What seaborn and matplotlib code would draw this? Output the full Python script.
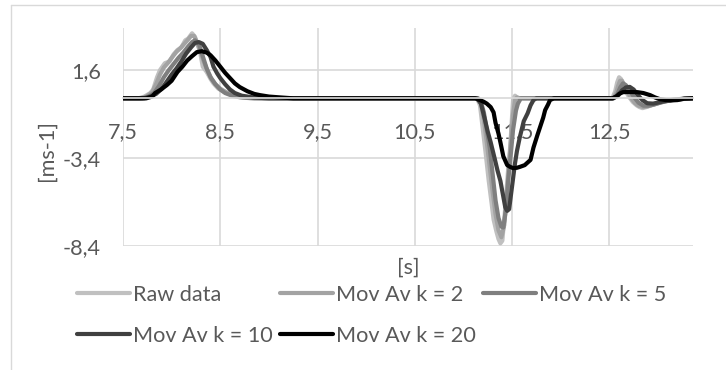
import numpy as np
import pandas as pd
import matplotlib
matplotlib.use("Agg")
import matplotlib.pyplot as plt
import seaborn as sns
from matplotlib.lines import Line2D

# ---------------- data ----------------
series_names = ["Raw data", "Mov Av k = 2", "Mov Av k = 5", "Mov Av k = 10", "Mov Av k = 20"]
series_colors = ["#c0c0c0", "#a3a3a3", "#7f7f7f", "#404040", "#000000"]

raw_t = [7.50, 7.66, 7.72, 7.78, 7.81, 7.85, 7.88, 7.93, 7.98, 8.02, 8.06, 8.10, 8.14, 8.17, 8.21, 8.24,
         8.27, 8.29, 8.32, 8.36, 8.40, 8.43, 8.48, 8.53, 8.57, 8.65, 8.73, 8.81,
         11.14, 11.17, 11.20, 11.23, 11.26, 11.29, 11.31, 11.34, 11.36, 11.38, 11.40, 11.43, 11.46, 11.48,
         11.50, 11.51, 11.53, 11.55, 11.58,
         12.53, 12.56, 12.58, 12.60, 12.62, 12.64, 12.66, 12.70, 12.74, 12.78, 12.81, 12.84, 12.88, 12.94,
         13.00, 13.06, 13.14, 13.23, 13.36]
raw_v = [0, 0, 0.1, 0.3, 0.5, 1.2, 1.6, 2.0, 2.1, 2.5, 2.75, 2.9, 3.3, 3.4, 3.7, 3.5,
         3.0, 2.7, 1.8, 1.5, 1.1, 0.85, 0.55, 0.4, 0.3, 0.15, 0.05, 0,
         0, -0.4, -1.8, -3.2, -4.7, -6.0, -6.9, -7.6, -8.0, -8.25, -8.1, -6.2, -4.0, -2.8,
         -1.0, -0.1, 0.15, 0.05, 0,
         0, 0.4, 0.9, 1.2, 1.1, 0.8, 0.47, 0.1, -0.2, -0.4, -0.5, -0.56, -0.5, -0.38,
         -0.28, -0.2, -0.1, -0.05, 0]

k2_t = [7.50, 7.68, 7.74, 7.80, 7.84, 7.88, 7.92, 7.96, 8.00, 8.05, 8.09, 8.13, 8.17, 8.20, 8.23, 8.26,
        8.29, 8.33, 8.37, 8.41, 8.45, 8.50, 8.56, 8.63, 8.72, 8.85,
        11.15, 11.18, 11.21, 11.24, 11.27, 11.30, 11.33, 11.36, 11.39, 11.42, 11.45, 11.48, 11.51, 11.53,
        11.55, 11.58,
        12.54, 12.57, 12.59, 12.61, 12.63, 12.65, 12.68, 12.72, 12.76, 12.80, 12.85, 12.90, 12.96, 13.03,
        13.12, 13.22, 13.36]
k2_v = [0, 0, 0.1, 0.35, 0.8, 1.35, 1.75, 2.0, 2.3, 2.65, 2.85, 3.1, 3.35, 3.55, 3.55, 3.2,
        2.75, 2.1, 1.55, 1.1, 0.8, 0.55, 0.35, 0.2, 0.08, 0,
        0, -0.3, -1.2, -2.5, -3.9, -5.3, -6.6, -7.5, -7.9, -7.2, -5.2, -3.0, -0.9, -0.1,
        0.05, 0,
        0, 0.3, 0.7, 1.0, 1.0, 0.8, 0.45, 0.05, -0.25, -0.42, -0.5, -0.45, -0.35, -0.22,
        -0.12, -0.05, 0]

k5_t = [7.50, 7.70, 7.76, 7.82, 7.87, 7.92, 7.97, 8.02, 8.07, 8.12, 8.17, 8.21, 8.24, 8.28, 8.32, 8.36,
        8.40, 8.45, 8.50, 8.55, 8.62, 8.70, 8.80, 8.95,
        11.15, 11.18, 11.21, 11.24, 11.27, 11.30, 11.33, 11.36, 11.39, 11.41, 11.44, 11.46, 11.49, 11.51,
        11.54, 11.56, 11.59,
        12.54, 12.58, 12.61, 12.64, 12.67, 12.71, 12.75, 12.80, 12.85, 12.90, 12.96, 13.04, 13.14, 13.25, 13.36]
k5_v = [0, 0, 0.1, 0.3, 0.7, 1.2, 1.6, 1.95, 2.3, 2.6, 2.95, 3.2, 3.3, 3.1, 2.4, 1.7,
        1.2, 0.8, 0.5, 0.3, 0.15, 0.06, 0.02, 0,
        0, -0.2, -0.8, -1.8, -2.8, -4.3, -5.8, -6.8, -7.3, -7.35, -6.2, -4.7, -3.0, -1.8,
        -0.7, -0.3, 0,
        0, 0.2, 0.6, 0.85, 0.75, 0.45, 0.1, -0.25, -0.42, -0.42, -0.35, -0.22, -0.1, -0.03, 0]

k10_t = [7.50, 7.72, 7.78, 7.84, 7.90, 7.95, 8.00, 8.05, 8.10, 8.15, 8.20, 8.24, 8.28, 8.32, 8.36, 8.40,
         8.43, 8.47, 8.50, 8.55, 8.60, 8.65, 8.72, 8.84, 9.00,
         11.14, 11.18, 11.22, 11.25, 11.28, 11.32, 11.35, 11.38, 11.41, 11.43, 11.45, 11.47, 11.50, 11.53,
         11.55, 11.58, 11.62, 11.66, 11.69, 11.72, 11.75,
         12.54, 12.59, 12.63, 12.67, 12.71, 12.75, 12.79, 12.84, 12.89, 12.95, 13.02, 13.10, 13.20, 13.36]
k10_v = [0, 0, 0.1, 0.25, 0.55, 0.95, 1.35, 1.7, 2.1, 2.55, 2.9, 3.15, 3.2, 3.1, 2.75, 2.35,
         1.8, 1.4, 1.15, 0.8, 0.5, 0.3, 0.15, 0.05, 0,
         0, -0.3, -1.2, -1.9, -2.5, -3.4, -4.1, -4.7, -5.6, -6.2, -6.4, -6.3, -5.0, -3.7,
         -3.0, -2.2, -1.3, -0.85, -0.4, -0.1, 0,
         0, 0.15, 0.45, 0.62, 0.65, 0.5, 0.2, -0.1, -0.28, -0.3, -0.22, -0.12, -0.05, 0]

k20_t = [7.50, 7.74, 7.80, 7.83, 7.89, 7.95, 8.00, 8.06, 8.11, 8.16, 8.21, 8.26, 8.31, 8.36, 8.40, 8.45,
         8.50, 8.55, 8.60, 8.65, 8.70, 8.78, 8.85, 8.91, 9.00, 9.12, 9.25,
         11.12, 11.17, 11.21, 11.24, 11.28, 11.31, 11.33, 11.36, 11.38, 11.41, 11.45, 11.48, 11.51, 11.55,
         11.58, 11.63, 11.67, 11.69, 11.72, 11.76, 11.79, 11.82, 11.84, 11.87, 11.89, 11.93,
         12.53, 12.57, 12.60, 12.64, 12.70, 12.79, 12.85, 12.92, 12.97, 13.02, 13.08, 13.13, 13.20, 13.27, 13.36]
k20_v = [0, 0, 0.1, 0.3, 0.5, 0.75, 1.0, 1.5, 1.8, 2.15, 2.4, 2.63, 2.68, 2.6, 2.45, 2.15,
         1.8, 1.45, 1.15, 0.85, 0.64, 0.4, 0.25, 0.18, 0.1, 0.05, 0,
         0, -0.1, -0.2, -0.3, -0.5, -0.8, -1.4, -2.0, -2.5, -3.3, -3.8, -3.9, -3.97, -3.95,
         -3.9, -3.8, -3.6, -3.5, -2.8, -2.1, -1.6, -1.1, -0.67, -0.35, -0.1, 0,
         0, 0.1, 0.25, 0.35, 0.36, 0.35, 0.3, 0.18, 0.05, -0.05, -0.1, -0.12, -0.1, -0.02, 0]

x_ticks = [7.5, 8.5, 9.5, 10.5, 11.5, 12.5]
x_tick_labels = ["7,5", "8,5", "9,5", "10,5", "11,5", "12,5"]
y_ticks = [-8.4, -3.4, 1.6]
y_tick_labels = ["-8,4", "-3,4", "1,6"]
x_label = "[s]"
y_label = "[ms-1]"

# ---------------- styling ----------------
sns.set_theme(style="white")
plt.rcParams["font.family"] = ["Lato", "DejaVu Sans"]
TXT = "#595959"
GRID = "#d9d9d9"
W, H = 726, 370

fig = plt.figure(figsize=(W / 100, H / 100), dpi=100)
renderer = fig.canvas.get_renderer()
probe = fig.text(0, 0, "Mov Av k = 10", fontsize=10)
pw = probe.get_window_extent(renderer).width
probe.remove()
FS = 10 * 140 / pw
FSPX = FS * 100 / 72

# outer chart border (cropped on right/bottom in the reference)
fig.add_artist(Line2D([10.5 / W, 10.5 / W], [0, 1 - 4.5 / H], transform=fig.transFigure,
                      color=GRID, lw=1.0))
fig.add_artist(Line2D([10.5 / W, 1], [1 - 4.5 / H, 1 - 4.5 / H], transform=fig.transFigure,
                      color=GRID, lw=1.0))

ax = fig.add_axes([123 / W, 1 - 246 / H, 570 / W, 218 / H])

all_t = [raw_t, k2_t, k5_t, k10_t, k20_t]
all_v = [raw_v, k2_v, k5_v, k10_v, k20_v]
for name, col, t, v in zip(series_names, series_colors, all_t, all_v):
    df = pd.DataFrame({"t": t, "v": v})
    sns.lineplot(data=df, x="t", y="v", ax=ax, color=col, lw=3.0, label=name,
                 estimator=None, sort=False, solid_joinstyle="round", solid_capstyle="round")

ax.set_xlim(7.5, 13.36)
ax.set_ylim(-8.4, 4.0)
ax.set_xticks(x_ticks)
ax.set_xticklabels(x_tick_labels)
ax.set_yticks(y_ticks)
ax.set_yticklabels(y_tick_labels)
ax.grid(True, color=GRID, lw=1.2)
ax.set_axisbelow(True)
for s in ["top", "right", "left"]:
    ax.spines[s].set_visible(False)
ax.spines["bottom"].set_position(("data", 0))
ax.spines["bottom"].set_color(GRID)
ax.tick_params(axis="both", length=0, labelsize=FS, labelcolor=TXT)
ax.tick_params(axis="y", pad=16.0)
ax.tick_params(axis="x", pad=17)

ax.set_xlabel(x_label, fontsize=FS, color=TXT)
ax.xaxis.set_label_coords(0.5, -0.055)
ax.set_ylabel(y_label, fontsize=FS, color=TXT)
ax.yaxis.set_label_coords(-0.116, 0.44)

handles, labels = ax.get_legend_handles_labels()
ax.get_legend().remove()
order = [0, 3, 1, 4, 2]
leg = fig.legend([handles[i] for i in order], [labels[i] for i in order],
                 loc="upper left", bbox_to_anchor=(77 / W, 1 - 285 / H),
                 bbox_transform=fig.transFigure, ncol=3, frameon=False,
                 fontsize=FS, borderpad=0, borderaxespad=0,
                 handlelength=53 / FSPX, handletextpad=3 / FSPX,
                 columnspacing=7 / FSPX, labelspacing=0.95)
for txt in leg.get_texts():
    txt.set_color(TXT)
for lh in leg.get_lines():
    lh.set_linewidth(3.0)

fig.savefig("out.png", dpi=100)
